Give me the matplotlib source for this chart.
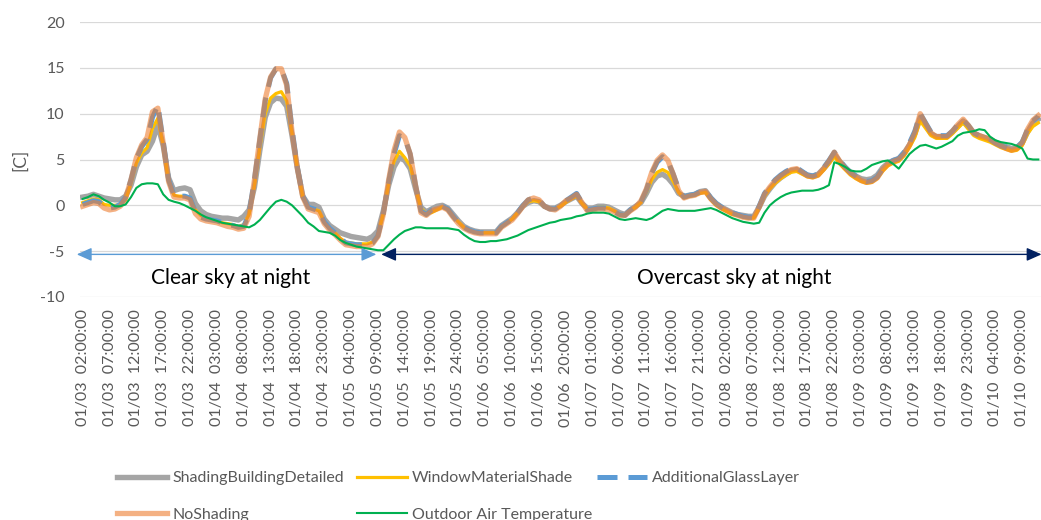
import matplotlib
matplotlib.use("Agg")
import matplotlib.pyplot as plt
import numpy as np

# ========== ДАННЫЕ ==========
SHADING_BUILDING = [
    0.9, 1.0, 1.2, 1.0, 0.8, 0.7, 0.6, 0.6, 1.0, 2.2,
    4.2, 5.5, 5.9, 7.0, 8.8, 6.5, 3.0, 1.6, 1.8, 1.9,
    1.7, 0.2, -0.6, -1.0, -1.2, -1.3, -1.4, -1.4, -1.5, -1.6,
    -1.2, -0.5, 2.0, 6.0, 9.6, 11.2, 11.7, 11.6, 10.8, 7.6,
    4.0, 1.0, 0.1, 0.1, -0.2, -1.5, -2.2, -2.6, -3.0, -3.2,
    -3.4, -3.5, -3.6, -3.7, -3.4, -2.8, -0.6, 2.2, 4.2, 5.2,
    4.9, 4.0, 1.8, -0.2, -0.7, -0.4, -0.1, 0.0, -0.3, -1.0,
    -1.7, -2.3, -2.6, -2.8, -2.9, -2.9, -2.9, -2.9, -2.2, -1.8,
    -1.4, -0.8, -0.1, 0.3, 0.5, 0.4, -0.1, -0.3, -0.3, 0.0,
    0.4, 0.7, 1.0, 0.2, -0.3, -0.3, -0.1, -0.1, -0.2, -0.5,
    -0.8, -1.0, -0.5, -0.1, 0.3, 1.3, 2.5, 3.2, 3.4, 3.0,
    2.3, 1.3, 1.0, 1.1, 1.2, 1.5, 1.6, 0.8, 0.2, -0.2,
    -0.5, -0.8, -1.0, -1.1, -1.2, -1.2, -0.2, 1.0, 1.8, 2.5,
    3.0, 3.4, 3.8, 3.9, 3.6, 3.3, 3.2, 3.4, 4.0, 4.7,
    5.6, 4.8, 4.1, 3.6, 3.2, 2.9, 2.8, 2.9, 3.3, 4.1,
    4.6, 4.9, 5.1, 5.7, 6.6, 7.8, 9.6, 8.8, 7.8, 7.5,
    7.5, 7.5, 8.0, 8.6, 9.2, 8.5, 7.8, 7.6, 7.4, 7.2,
    6.9, 6.6, 6.4, 6.2, 6.3, 6.8, 8.0, 9.0, 9.4,
]

WINDOW_SHADE = [
    0.3, 0.5, 0.7, 0.6, 0.1, 0.0, 0.0, 0.1, 0.6, 2.4,
    4.6, 5.7, 6.3, 8.4, 9.5, 6.5, 2.6, 1.1, 1.0, 1.0,
    0.9, -0.5, -1.1, -1.4, -1.6, -1.7, -1.9, -2.0, -2.1, -2.3,
    -2.1, -1.0, 2.2, 6.3, 10.0, 11.7, 12.2, 12.4, 11.4, 7.8,
    4.0, 0.9, -0.2, -0.4, -0.6, -1.8, -2.5, -3.0, -3.6, -4.0,
    -4.1, -4.2, -4.2, -4.2, -4.0, -3.2, -0.9, 2.4, 4.8, 5.9,
    5.2, 4.3, 1.9, -0.3, -0.9, -0.8, -0.5, -0.2, -0.5, -1.2,
    -1.8, -2.4, -2.7, -2.9, -3.0, -3.0, -3.0, -3.0, -2.3, -1.9,
    -1.5, -0.8, -0.1, 0.4, 0.5, 0.4, -0.2, -0.4, -0.4, -0.1,
    0.3, 0.7, 1.0, 0.2, -0.4, -0.4, -0.2, -0.2, -0.3, -0.6,
    -0.9, -1.1, -0.6, -0.2, 0.3, 1.4, 2.8, 3.6, 3.9, 3.6,
    2.6, 1.4, 0.8, 1.0, 1.1, 1.3, 1.4, 0.6, 0.0, -0.4,
    -0.7, -1.0, -1.1, -1.3, -1.4, -1.4, -0.3, 1.0, 1.8, 2.4,
    2.9, 3.3, 3.6, 3.7, 3.4, 3.1, 3.0, 3.2, 3.8, 4.5,
    5.3, 4.5, 3.9, 3.3, 2.9, 2.6, 2.4, 2.5, 2.9, 3.7,
    4.3, 4.6, 4.8, 5.4, 6.3, 7.4, 9.2, 8.4, 7.6, 7.3,
    7.3, 7.3, 7.8, 8.4, 9.0, 8.3, 7.6, 7.3, 7.1, 6.9,
    6.6, 6.3, 6.1, 5.9, 6.0, 6.5, 7.8, 8.6, 9.0,
]

GLASS_LAYER = [
    0.1, 0.3, 0.5, 0.4, -0.1, -0.3, -0.2, 0.1, 0.9, 2.8,
    5.1, 6.4, 7.2, 9.6, 10.9, 7.0, 2.8, 1.1, 1.0, 1.0,
    0.8, -0.7, -1.3, -1.5, -1.6, -1.7, -1.9, -2.1, -2.2, -2.4,
    -2.3, -0.9, 2.9, 7.2, 11.4, 13.9, 14.9, 14.9, 13.3, 8.3,
    4.1, 1.0, -0.2, -0.4, -0.6, -1.8, -2.5, -3.0, -3.6, -4.1,
    -4.2, -4.3, -4.3, -4.3, -4.1, -3.3, -0.9, 2.6, 5.6, 7.6,
    7.3, 5.6, 2.2, -0.6, -1.0, -0.5, -0.3, -0.1, -0.4, -1.2,
    -1.9, -2.4, -2.7, -2.9, -3.0, -3.0, -3.0, -3.0, -2.3, -1.9,
    -1.5, -0.8, 0.0, 0.6, 0.8, 0.6, -0.1, -0.4, -0.4, 0.0,
    0.5, 0.9, 1.3, 0.3, -0.5, -0.4, -0.3, -0.3, -0.4, -0.7,
    -1.0, -1.1, -0.5, -0.1, 0.4, 1.7, 3.5, 4.7, 5.3, 4.8,
    3.4, 1.8, 0.9, 1.1, 1.2, 1.5, 1.6, 0.8, 0.2, -0.2,
    -0.5, -0.8, -1.0, -1.2, -1.3, -1.3, -0.1, 1.3, 2.1, 2.8,
    3.3, 3.7, 4.0, 4.1, 3.7, 3.3, 3.2, 3.4, 4.1, 4.9,
    5.8, 4.9, 4.2, 3.6, 3.2, 2.8, 2.6, 2.7, 3.1, 4.0,
    4.6, 4.9, 5.1, 5.8, 6.8, 8.1, 10.0, 9.0, 8.0, 7.6,
    7.6, 7.6, 8.1, 8.8, 9.3, 8.7, 7.9, 7.6, 7.4, 7.2,
    6.8, 6.5, 6.3, 6.1, 6.3, 6.9, 8.3, 9.2, 9.7,
]

NO_SHADING = [
    -0.1, 0.1, 0.3, 0.2, -0.3, -0.5, -0.4, -0.1, 0.8, 2.8,
    5.2, 6.6, 7.4, 10.2, 10.6, 6.8, 2.6, 0.9, 0.8, 0.8,
    0.6, -0.9, -1.5, -1.7, -1.8, -1.9, -2.1, -2.3, -2.4, -2.6,
    -2.5, -1.2, 2.8, 7.3, 11.6, 14.0, 14.9, 14.9, 13.1, 8.0,
    4.0, 0.9, -0.4, -0.6, -0.8, -2.0, -2.7, -3.2, -3.8, -4.3,
    -4.4, -4.5, -4.5, -4.5, -4.2, -3.4, -1.0, 2.8, 6.0, 8.0,
    7.4, 5.6, 2.2, -0.8, -1.1, -0.6, -0.4, -0.2, -0.5, -1.3,
    -2.0, -2.5, -2.8, -3.0, -3.1, -3.1, -3.1, -3.1, -2.4, -2.0,
    -1.6, -0.9, -0.1, 0.6, 0.8, 0.6, -0.1, -0.4, -0.5, -0.1,
    0.5, 0.8, 1.2, 0.3, -0.6, -0.5, -0.4, -0.4, -0.5, -0.7,
    -1.1, -1.1, -0.6, -0.2, 0.5, 1.8, 3.6, 4.9, 5.5, 4.9,
    3.4, 1.6, 0.8, 1.0, 1.1, 1.4, 1.5, 0.7, 0.1, -0.3,
    -0.6, -0.9, -1.1, -1.3, -1.4, -1.4, -0.2, 1.2, 2.0, 2.7,
    3.2, 3.6, 3.9, 4.0, 3.6, 3.2, 3.1, 3.3, 4.0, 4.8,
    5.8, 4.8, 4.1, 3.5, 3.1, 2.7, 2.5, 2.6, 3.0, 3.9,
    4.5, 4.8, 5.0, 5.6, 6.6, 7.9, 10.0, 8.9, 7.9, 7.5,
    7.5, 7.5, 8.1, 8.8, 9.4, 8.7, 7.9, 7.6, 7.4, 7.2,
    6.8, 6.5, 6.2, 6.0, 6.2, 6.8, 8.3, 9.3, 9.8,
]

OUTDOOR = [
    0.7, 0.9, 1.2, 1.0, 0.6, 0.3, -0.1, -0.1, 0.1, 0.9,
    1.9, 2.3, 2.4, 2.4, 2.3, 1.2, 0.6, 0.4, 0.25, 0.0,
    -0.3, -0.6, -1.0, -1.3, -1.5, -1.7, -1.9, -2.0, -2.1, -2.2,
    -2.3, -2.4, -2.1, -1.6, -0.9, -0.2, 0.4, 0.6, 0.4, 0.0,
    -0.6, -1.2, -1.9, -2.3, -2.8, -2.9, -3.0, -3.3, -3.8, -4.1,
    -4.3, -4.5, -4.6, -4.7, -4.8, -4.9, -4.9, -4.3, -3.7, -3.2,
    -2.8, -2.6, -2.4, -2.4, -2.5, -2.5, -2.5, -2.5, -2.5, -2.6,
    -2.7, -3.2, -3.6, -3.9, -4.0, -4.0, -3.9, -3.9, -3.8, -3.7,
    -3.5, -3.3, -3.0, -2.7, -2.5, -2.3, -2.1, -1.9, -1.8, -1.6,
    -1.5, -1.4, -1.2, -1.1, -0.9, -0.8, -0.8, -0.8, -0.9, -1.2,
    -1.5, -1.6, -1.5, -1.4, -1.5, -1.6, -1.4, -1.0, -0.6, -0.4,
    -0.5, -0.6, -0.6, -0.6, -0.6, -0.5, -0.4, -0.3, -0.5, -0.8,
    -1.1, -1.4, -1.6, -1.8, -1.9, -2.0, -1.9, -0.8, 0.0, 0.5,
    0.9, 1.2, 1.4, 1.5, 1.6, 1.6, 1.6, 1.7, 1.9, 2.2,
    4.7, 4.5, 4.2, 3.8, 3.7, 3.7, 4.0, 4.4, 4.6, 4.8,
    4.9, 4.5, 4.0, 4.8, 5.6, 6.1, 6.5, 6.6, 6.4, 6.2,
    6.4, 6.7, 7.0, 7.6, 7.9, 8.0, 8.1, 8.3, 8.2, 7.5,
    7.1, 6.9, 6.8, 6.7, 6.5, 6.2, 5.1, 5.0, 5.0,
]

# подписи оси X (каждый 5-й час)
TICK_LABELS = [
    "01/03  02:00:00", "01/03  07:00:00", "01/03  12:00:00", "01/03  17:00:00", "01/03  22:00:00",
    "01/04  03:00:00", "01/04  08:00:00", "01/04  13:00:00", "01/04  18:00:00", "01/04  23:00:00",
    "01/05  04:00:00", "01/05  09:00:00", "01/05  14:00:00", "01/05  19:00:00", "01/05  24:00:00",
    "01/06  05:00:00", "01/06  10:00:00", "01/06  15:00:00", "01/06  20:00:00",
    "01/07  01:00:00", "01/07  06:00:00", "01/07  11:00:00", "01/07  16:00:00", "01/07  21:00:00",
    "01/08  02:00:00", "01/08  07:00:00", "01/08  12:00:00", "01/08  17:00:00", "01/08  22:00:00",
    "01/09  03:00:00", "01/09  08:00:00", "01/09  13:00:00", "01/09  18:00:00", "01/09  23:00:00",
    "01/10  04:00:00", "01/10  09:00:00",
]

# ========== ОФОРМЛЕНИЕ ==========
plt.rcParams['font.family'] = ['Lato', 'DejaVu Sans']
plt.rcParams['axes.unicode_minus'] = False
TXT = '#595959'
W, H = 1041, 520

fig = plt.figure(figsize=(W / 100, H / 100), dpi=100)
ax = fig.add_axes([80 / W, 1 - 297 / H, 961 / W, 275 / H])

x = np.arange(len(NO_SHADING))
l_gray, = ax.plot(x, SHADING_BUILDING, color='#A5A5A5', lw=3.9, solid_joinstyle='round')
l_yel, = ax.plot(x, WINDOW_SHADE, color='#FFC000', lw=2.3, solid_joinstyle='round')
l_blue, = ax.plot(x, GLASS_LAYER, color='#5B9BD5', lw=3.6, dashes=(4, 2.2))
l_orng, = ax.plot(x, NO_SHADING, color='#ED7D31', alpha=0.6, lw=3.8, solid_joinstyle='round')
l_green, = ax.plot(x, OUTDOOR, color='#00B050', lw=1.5)

ax.set_xlim(-0.5, len(x) - 0.5)
ax.set_ylim(-10, 20)
ax.set_yticks(range(-10, 21, 5))
ax.set_xticks(x[::5])
ax.set_xticklabels(TICK_LABELS, rotation=90)
ax.tick_params(axis='both', length=0, labelcolor=TXT, labelsize=11.5)
ax.tick_params(axis='x', pad=9)
ax.tick_params(axis='y', pad=11)
ax.grid(axis='y', color='#D9D9D9', lw=0.9)
ax.set_axisbelow(True)
for s in ax.spines.values():
    s.set_visible(False)

fig.text(20 / W, 1 - 160 / H, '[C]', rotation=90, ha='center', va='center',
         color=TXT, fontsize=12.5)

# ========== СТРЕЛКИ И ПОДПИСИ ==========
ARROW_Y = -5.35
ax.annotate('', xy=(54.7, ARROW_Y), xytext=(-1.1, ARROW_Y), annotation_clip=False,
            arrowprops=dict(arrowstyle='<|-|>,head_length=0.9,head_width=0.4', color='#5B9BD5',
                            lw=1, shrinkA=0, shrinkB=0, mutation_scale=10))
ax.annotate('', xy=(178.6, ARROW_Y), xytext=(55.6, ARROW_Y), annotation_clip=False,
            arrowprops=dict(arrowstyle='<|-|>,head_length=0.9,head_width=0.4', color='#002060',
                            lw=1, shrinkA=0, shrinkB=0, mutation_scale=10))
ax.text(27.6, -7.9, 'Clear sky at night', ha='center', va='center', fontsize=15, color='#000000')
ax.text(121.4, -7.9, 'Overcast sky at night', ha='center', va='center', fontsize=15, color='#000000')

# ========== ЛЕГЕНДА ==========
leg_kw = dict(frameon=False, fontsize=11.5, handlelength=3.1, handletextpad=0.35, borderpad=0,
              borderaxespad=0, labelspacing=1.4, labelcolor=TXT, loc='upper left')
top = 1 - 471 / H
fig.legend([l_gray, l_orng], ['ShadingBuildingDetailed', 'NoShading'],
           bbox_to_anchor=(117 / W, top), **leg_kw)
fig.legend([l_yel, l_green], ['WindowMaterialShade', 'Outdoor Air Temperature'],
           bbox_to_anchor=(357 / W, top), **leg_kw)
fig.legend([l_blue], ['AdditionalGlassLayer'],
           bbox_to_anchor=(597 / W, top), **leg_kw)

fig.savefig('out.png', dpi=100)
